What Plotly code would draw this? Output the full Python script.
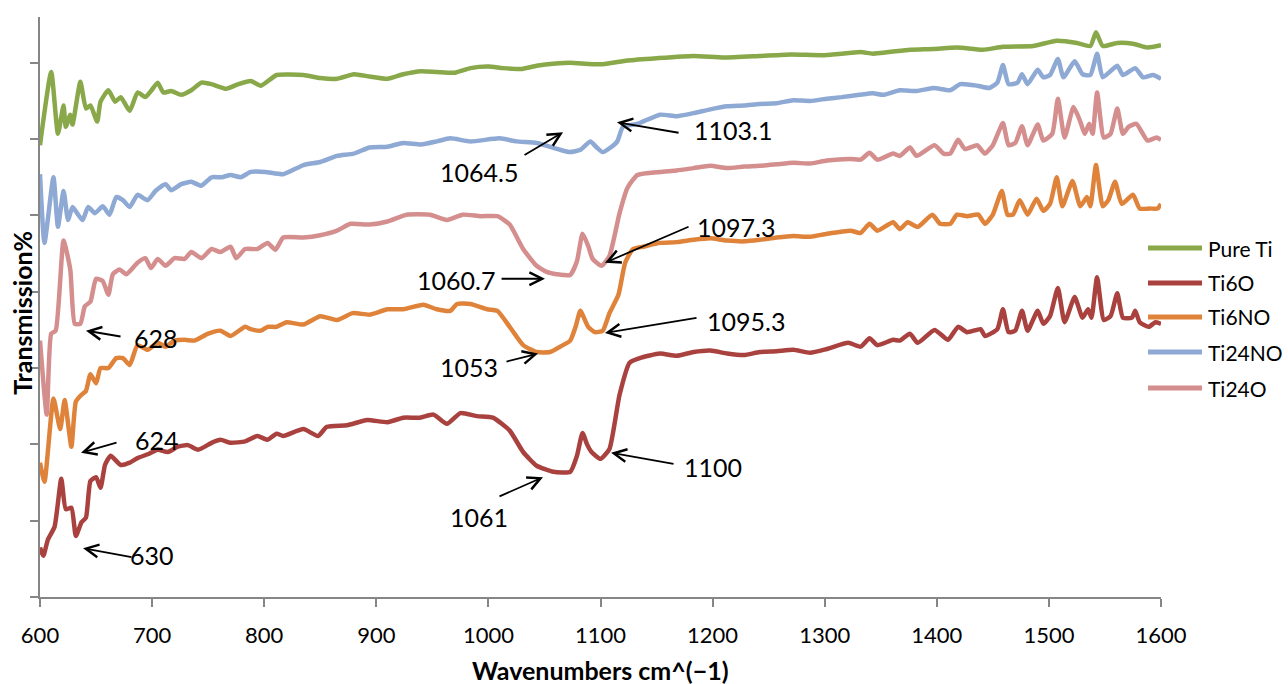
import plotly.graph_objects as go

# FTIR transmission spectra (wavenumber cm^-1, transmission, vertically offset)
PURE_TI = [(600, 59.2), (610, 68.8), (616, 60.7), (621, 64.4), (623, 61.6), (627, 63.2), (629, 61.9),
           (636, 67.5), (641, 64.0), (645, 64.4), (651, 62.3), (654, 64.9), (661, 66.4), (667, 64.9),
           (672, 65.5), (680, 63.7), (687, 66.1), (694, 65.5), (699, 66.3), (705, 67.4), (710, 66.1),
           (717, 66.3), (726, 65.8), (735, 66.4), (744, 67.4), (753, 67.2), (766, 66.6), (777, 67.2),
           (788, 67.6), (797, 67.0), (806, 67.9), (811, 68.4), (835, 68.4), (850, 68.0), (865, 67.9),
           (880, 68.5), (894, 68.2), (910, 67.9), (924, 68.5), (940, 68.9), (954, 68.8), (970, 68.7),
           (984, 69.3), (1000, 69.5), (1013, 69.3), (1030, 69.2), (1043, 69.6), (1060, 69.9), (1073, 70.0),
           (1100, 69.8), (1124, 70.3), (1150, 70.6), (1183, 70.9), (1210, 70.7), (1242, 70.9), (1270, 71.1),
           (1300, 71.0), (1332, 71.4), (1343, 71.2), (1376, 71.7), (1397, 71.8), (1418, 72.0), (1441, 71.7),
           (1459, 72.1), (1486, 72.2), (1507, 72.9), (1525, 72.6), (1537, 72.2), (1542, 74.0), (1548, 72.2),
           (1561, 72.6), (1575, 72.5), (1588, 72.0), (1600, 72.3)]

TI6O = [(600, 6.5), (603, 5.4), (607, 7.5), (613, 9.2), (619, 15.5), (623, 11.5), (628, 11.7), (632, 8.0),
        (637, 9.8), (641, 10.4), (645, 15.2), (650, 15.7), (654, 14.3), (658, 17.3), (663, 18.5), (672, 17.3),
        (680, 17.6), (687, 18.2), (696, 18.7), (705, 19.3), (714, 19.0), (723, 19.7), (732, 19.9), (741, 19.3),
        (753, 20.2), (761, 20.6), (770, 20.2), (783, 20.4), (794, 21.1), (803, 20.6), (811, 21.4), (817, 21.1),
        (835, 22.0), (848, 21.1), (856, 22.3), (874, 22.5), (892, 23.2), (910, 22.9), (924, 23.5), (939, 23.5),
        (951, 23.9), (963, 22.7), (975, 24.1), (990, 23.7), (1004, 23.5), (1019, 21.8), (1031, 19.0),
        (1043, 17.2), (1058, 16.4), (1073, 16.4), (1079, 18.5), (1084, 21.5), (1088, 20.0), (1092, 19.0),
        (1100, 18.1), (1108, 19.4), (1117, 26.5), (1126, 30.7), (1135, 31.3), (1153, 31.9), (1168, 31.6),
        (1183, 32.1), (1198, 32.3), (1213, 31.9), (1228, 31.7), (1242, 32.1), (1257, 32.2), (1272, 32.4),
        (1287, 32.0), (1302, 32.5), (1321, 33.3), (1332, 32.8), (1340, 33.9), (1347, 33.0), (1361, 33.7),
        (1367, 33.6), (1376, 34.5), (1383, 33.3), (1398, 35.0), (1410, 33.7), (1419, 35.4), (1427, 34.7),
        (1439, 35.1), (1443, 34.2), (1454, 35.1), (1459, 37.7), (1464, 34.7), (1470, 34.9), (1476, 37.5),
        (1481, 34.9), (1490, 37.5), (1495, 35.8), (1501, 36.8), (1508, 40.5), (1514, 36.0), (1523, 39.3),
        (1530, 36.6), (1535, 37.7), (1538, 36.6), (1543, 41.9), (1549, 36.3), (1555, 36.8), (1561, 39.8),
        (1566, 36.6), (1574, 36.6), (1577, 37.5), (1581, 36.0), (1589, 35.4), (1595, 36.0), (1600, 35.8)]

TI6NO = [(600, 17.6), (604, 15.1), (612, 26.0), (618, 22.0), (622, 25.8), (628, 19.7), (632, 25.6), (637, 26.5),
         (641, 27.0), (645, 29.2), (650, 28.0), (654, 30.0), (661, 30.0), (668, 31.3), (674, 31.3), (680, 30.4),
         (687, 33.0), (696, 32.4), (705, 33.3), (712, 32.8), (720, 33.6), (729, 33.7), (738, 33.6), (750, 34.5),
         (761, 34.9), (770, 34.2), (783, 35.4), (788, 35.1), (797, 34.9), (803, 35.4), (811, 35.4), (820, 36.0),
         (835, 35.7), (850, 36.8), (865, 36.3), (879, 37.2), (894, 37.0), (910, 37.7), (924, 37.7), (942, 38.3),
         (954, 37.7), (966, 37.5), (972, 38.4), (984, 38.4), (999, 37.7), (1008, 37.5), (1019, 35.4),
         (1031, 33.0), (1043, 32.1), (1055, 32.1), (1064, 32.8), (1073, 33.6), (1078, 35.5), (1082, 37.5),
         (1089, 35.4), (1095, 34.7), (1102, 34.9), (1108, 37.2), (1116, 39.6), (1122, 43.8), (1129, 45.6),
         (1138, 45.9), (1153, 46.4), (1168, 46.5), (1183, 46.8), (1198, 47.0), (1213, 46.7), (1228, 46.6),
         (1242, 46.8), (1257, 47.1), (1272, 47.3), (1287, 47.2), (1302, 47.6), (1323, 48.0), (1332, 47.7),
         (1340, 48.9), (1347, 48.0), (1361, 49.1), (1367, 48.2), (1374, 49.1), (1383, 48.5), (1396, 50.1),
         (1403, 48.9), (1412, 48.9), (1418, 50.1), (1427, 49.9), (1437, 50.1), (1443, 48.9), (1450, 50.1),
         (1458, 53.2), (1463, 50.1), (1468, 50.1), (1474, 52.0), (1481, 50.1), (1489, 52.2), (1495, 50.6),
         (1501, 51.5), (1507, 55.0), (1512, 51.2), (1521, 54.5), (1528, 51.2), (1534, 52.4), (1537, 51.2),
         (1542, 56.6), (1548, 51.2), (1553, 52.0), (1559, 54.4), (1565, 51.5), (1575, 52.7), (1581, 50.9),
         (1590, 50.9), (1597, 50.9), (1600, 51.5)]

TI24NO = [(600, 55.4), (604, 46.4), (612, 55.0), (616, 48.5), (621, 53.2), (625, 49.4), (629, 51.1), (634, 50.1),
          (638, 49.4), (643, 51.1), (649, 50.3), (656, 51.2), (662, 50.1), (668, 52.4), (674, 52.0), (680, 51.1),
          (687, 52.7), (696, 52.0), (703, 53.2), (712, 54.1), (717, 53.3), (726, 54.1), (735, 54.4), (744, 53.9),
          (753, 55.0), (762, 55.0), (770, 55.3), (779, 55.0), (788, 55.7), (801, 55.7), (817, 55.4), (835, 56.6),
          (850, 57.0), (865, 57.8), (880, 58.1), (894, 58.9), (910, 59.0), (924, 59.5), (940, 59.3), (954, 59.7),
          (966, 60.1), (984, 59.7), (1010, 60.1), (1025, 59.7), (1043, 59.5), (1055, 59.0), (1064, 58.6),
          (1073, 58.3), (1082, 58.6), (1091, 59.7), (1096, 59.0), (1102, 58.3), (1109, 58.9), (1115, 59.7),
          (1120, 61.6), (1133, 62.0), (1153, 63.2), (1168, 63.0), (1183, 63.4), (1198, 63.9), (1213, 64.3),
          (1228, 64.4), (1242, 64.6), (1257, 64.7), (1272, 65.1), (1287, 65.0), (1302, 65.3), (1315, 65.5),
          (1331, 65.8), (1343, 66.0), (1352, 65.8), (1367, 66.4), (1382, 66.3), (1397, 66.7), (1412, 66.4),
          (1421, 67.2), (1436, 67.0), (1447, 66.7), (1454, 67.4), (1459, 69.7), (1464, 67.2), (1472, 67.4),
          (1476, 68.5), (1481, 67.2), (1490, 69.1), (1495, 68.1), (1501, 68.4), (1508, 70.5), (1513, 68.1),
          (1523, 70.2), (1530, 68.5), (1537, 68.4), (1543, 71.2), (1548, 68.1), (1561, 69.6), (1566, 68.4),
          (1577, 69.3), (1584, 68.1), (1593, 68.4), (1600, 67.9)]

TI24O = [(600, 33.6), (606, 23.9), (610, 34.5), (614, 34.9), (621, 46.7), (627, 42.9), (631, 35.8), (636, 35.8),
         (640, 38.1), (645, 38.7), (650, 41.7), (656, 41.4), (661, 39.6), (665, 42.3), (671, 42.9), (677, 42.3),
         (687, 43.8), (694, 44.4), (699, 43.1), (705, 44.3), (712, 43.4), (720, 44.4), (729, 44.3), (735, 45.2),
         (744, 44.4), (753, 45.6), (761, 45.2), (770, 45.9), (775, 44.4), (783, 45.6), (794, 45.6), (803, 46.4),
         (810, 45.5), (817, 47.1), (835, 47.1), (850, 47.4), (865, 48.0), (877, 48.9), (894, 48.8), (910, 49.2),
         (927, 50.1), (948, 50.1), (963, 49.4), (977, 50.1), (993, 49.9), (1008, 49.9), (1019, 48.8),
         (1031, 45.6), (1043, 43.4), (1052, 42.6), (1061, 42.3), (1073, 42.2), (1079, 44.0), (1084, 47.6),
         (1089, 46.0), (1093, 44.3), (1101, 43.4), (1108, 44.7), (1117, 50.3), (1124, 53.6), (1133, 55.3),
         (1153, 55.7), (1168, 55.9), (1183, 56.2), (1198, 56.5), (1213, 56.2), (1228, 56.4), (1242, 56.5),
         (1257, 56.7), (1272, 56.9), (1287, 56.8), (1302, 57.2), (1323, 57.4), (1332, 57.3), (1340, 58.2),
         (1347, 57.3), (1361, 58.1), (1367, 57.8), (1376, 58.9), (1382, 57.8), (1398, 59.2), (1406, 58.1),
         (1412, 58.1), (1419, 59.9), (1425, 58.7), (1436, 59.2), (1443, 58.1), (1450, 59.2), (1459, 62.1),
         (1464, 59.2), (1470, 59.5), (1476, 61.7), (1481, 59.2), (1490, 61.9), (1495, 59.8), (1503, 60.7),
         (1508, 65.3), (1514, 60.2), (1522, 64.2), (1528, 62.3), (1532, 60.7), (1536, 62.0), (1539, 60.7),
         (1543, 66.1), (1549, 60.2), (1555, 60.7), (1561, 64.0), (1566, 60.7), (1571, 61.6), (1578, 62.0),
         (1588, 59.8), (1596, 60.2), (1600, 59.9)]

SERIES_NAMES = ["Pure Ti", "Ti6O", "Ti6NO", "Ti24NO", "Ti24O"]
SERIES_DATA = [PURE_TI, TI6O, TI6NO, TI24NO, TI24O]
SERIES_COLORS = ["#88A84A", "#A9423F", "#E0833A", "#8EA9D4", "#D48E8E"]

# Peak labels: (text, arrow tip x, tip y, arrow tail x, tail y, label x, label y, label anchor)
PEAK_LABELS = [
    ("1103.1", 1114.7, 62.2, 1171.0, 60.8, 1181.6, 61.2, "left"),
    ("1064.5", 1066.6, 60.9, 1030.9, 57.8, 991.6, 55.7, "center"),
    ("1060.7", 1050.5, 41.7, 1010.4, 41.7, 1007.7, 41.6, "right"),
    ("1097.3", 1104.0, 43.8, 1179.9, 48.6, 1184.3, 48.5, "left"),
    ("1095.3", 1104.0, 34.6, 1187.0, 36.6, 1193.2, 36.2, "left"),
    ("1053", 1044.3, 31.9, 1014.8, 30.8, 1010.4, 30.1, "right"),
    ("1100", 1109.4, 18.9, 1166.5, 17.4, 1172.7, 17.0, "left"),
    ("1061", 1048.7, 15.7, 1008.6, 13.1, 991.6, 10.5, "center"),
    ("628", 641.0, 34.9, 673.2, 34.1, 682.1, 33.9, "left"),
    ("624", 636.6, 18.9, 669.6, 20.3, 683.0, 20.6, "left"),
    ("630", 638.4, 6.4, 683.0, 5.2, 678.5, 5.5, "left"),
]

X_TICKS = [600, 700, 800, 900, 1000, 1100, 1200, 1300, 1400, 1500, 1600]

FONT = "Lato, 'Open Sans', sans-serif"
AXIS_GREY = "#868686"

fig = go.Figure()
for name, data, color in zip(SERIES_NAMES, SERIES_DATA, SERIES_COLORS):
    xs = [p[0] for p in data]
    ys = [p[1] for p in data]
    fig.add_trace(go.Scatter(
        x=xs, y=ys, mode="lines", name=name,
        line=dict(color=color, width=4.5, shape="spline", smoothing=0.5),
        showlegend=False, hoverinfo="skip",
    ))

annotations = []
for text, tx, ty, ax, ay, lx, ly, anchor in PEAK_LABELS:
    annotations.append(dict(
        x=tx, y=ty, ax=ax, ay=ay, xref="x", yref="y", axref="x", ayref="y",
        text="", showarrow=True, arrowhead=5, arrowsize=1.4, arrowwidth=1.8,
        arrowcolor="black",
    ))
    annotations.append(dict(
        x=lx, y=ly, xref="x", yref="y", text=text, showarrow=False,
        xanchor=anchor, yanchor="middle",
        font=dict(family=FONT, size=25, color="black"),
    ))

# Axis titles
annotations.append(dict(
    x=0.4996, y=-0.126, xref="paper", yref="paper",
    text="<b>Wavenumbers cm^(\u22121)</b>", showarrow=False,
    xanchor="center", yanchor="middle",
    font=dict(family=FONT, size=25, color="black"),
))
annotations.append(dict(
    x=-0.016, y=0.49, xref="paper", yref="paper",
    text="<b>Transmission%</b>", showarrow=False, textangle=-90,
    xanchor="center", yanchor="middle",
    font=dict(family=FONT, size=25, color="black"),
))

# Legend drawn at the right edge of the plot
shapes = []
legend_y = [0.6017, 0.5414, 0.4828, 0.4224, 0.3603]
for name, color, ly in zip(SERIES_NAMES, SERIES_COLORS, legend_y):
    shapes.append(dict(
        type="line", xref="paper", yref="paper",
        x0=0.9884, x1=1.0366, y0=ly, y1=ly,
        line=dict(color=color, width=5),
    ))
    annotations.append(dict(
        x=1.040, y=ly, xref="paper", yref="paper", text=name,
        showarrow=False, xanchor="left", yanchor="middle",
        font=dict(family=FONT, size=21, color="black"),
    ))

fig.update_layout(
    width=1288, height=684,
    margin=dict(l=40, r=127, t=17, b=87),
    paper_bgcolor="white", plot_bgcolor="white",
    showlegend=False,
    annotations=annotations,
    shapes=shapes,
    xaxis=dict(
        range=[600, 1600], tickmode="array", tickvals=X_TICKS,
        ticktext=[str(t) for t in X_TICKS],
        showgrid=False, zeroline=False,
        showline=True, linecolor=AXIS_GREY, linewidth=1.5,
        ticks="outside", ticklen=8, tickwidth=1.5, tickcolor=AXIS_GREY,
        tickfont=dict(family=FONT, size=22, color="black"),
        ticklabelstandoff=10,
    ),
    yaxis=dict(
        range=[0, 76.0], tick0=0, dtick=10,
        showgrid=False, zeroline=False,
        showline=True, linecolor=AXIS_GREY, linewidth=1.5,
        ticks="outside", ticklen=8, tickwidth=1.5, tickcolor=AXIS_GREY,
        showticklabels=False,
    ),
)

fig.write_html("out.html")
